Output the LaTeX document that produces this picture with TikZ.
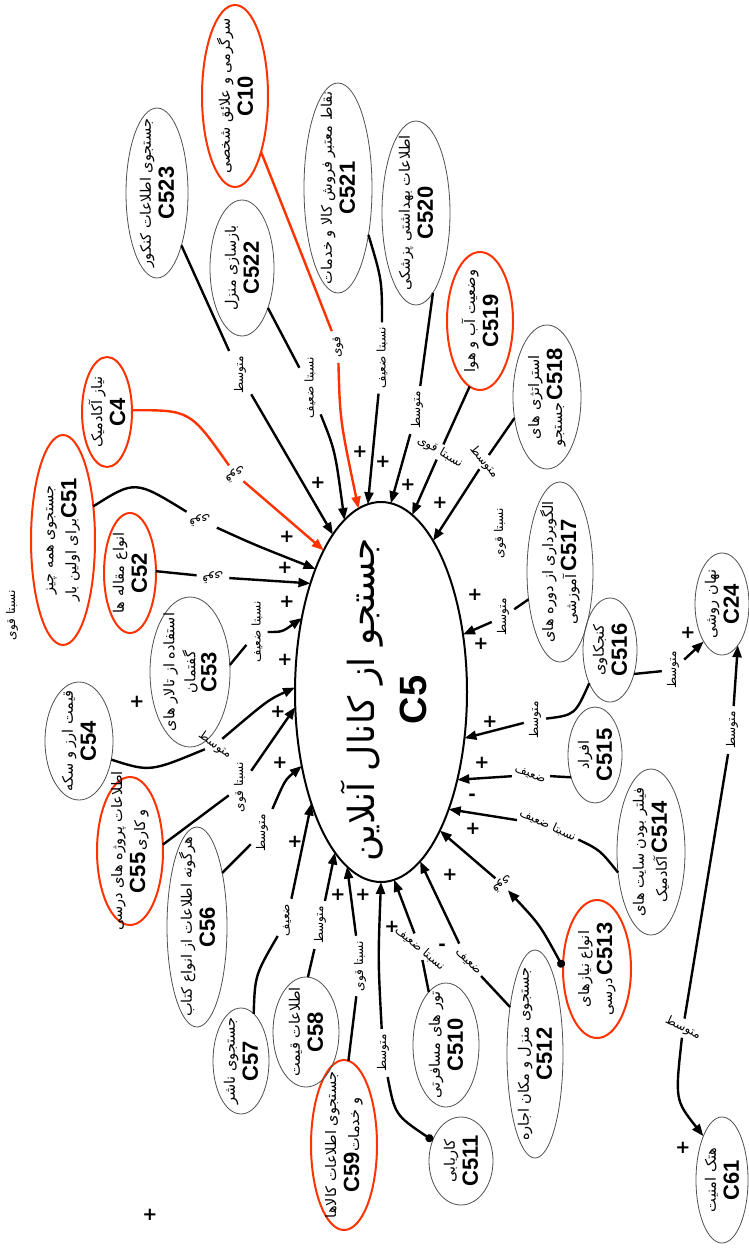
\documentclass[tikz,border=0pt]{standalone}
\usepackage{fontspec}
\setmainfont{DejaVu Sans}
\newfontfamily\fa[Script=Arabic]{DejaVu Sans}
\newfontfamily\cdfont{Liberation Sans}
\TeXXeTstate=1
\usetikzlibrary{shapes.geometric,arrows.meta}
\definecolor{myred}{RGB}{255,51,0}
\definecolor{elgray}{RGB}{80,80,80}
\newcommand\pft[1]{{\fa\fontsize{14.5}{16}\selectfont\beginR #1\endR}}
\newcommand\cdt[1]{{\cdfont\bfseries\fontsize{22}{24}\selectfont #1}}
\newcommand\pfl[1]{{\fa\beginR #1\endR}}
\tikzset{
  ell/.style={ellipse, draw=elgray, line width=0.8pt, inner sep=0pt, outer sep=0pt},
  rell/.style={ellipse, draw=myred, line width=2pt, inner sep=0pt, outer sep=0pt},
  txt/.style={rotate=90, align=center, inner sep=0pt, font=\fontsize{14}{23}\selectfont},
  lab/.style={rotate=90, inner sep=5pt, font=\fontsize{12}{13}\selectfont},
  edge/.style={line width=2.4pt, black},
  arr/.style={edge, -{Triangle[length=12pt,width=9pt]}},
  dotarr/.style={edge, {Circle[length=8pt]}-{Triangle[length=12pt,width=9pt]}},
  redge/.style={line width=2.4pt, myred},
  rarr/.style={redge, -{Triangle[length=12pt,width=9pt]}},
  sgn/.style={inner sep=0pt, font=\bfseries\fontsize{18}{18}\selectfont}
}
\begin{document}
\begin{tikzpicture}[x=1pt,y=-1pt]
\useasboundingbox[fill=white] (0,0) rectangle (749,1250);

% ---- central node
\node[ellipse, draw=black, line width=2pt, inner sep=0pt, outer sep=0pt, minimum width=172pt, minimum height=380pt] (c5) at (381,692) {};
\node[rotate=90, align=center, inner sep=0pt, font=\fontsize{36}{52}\selectfont] (t5) at (384,700) {\pfl{جستجو از کانال آنلاین}\\{\cdfont\bfseries\fontsize{38}{40}\selectfont C5}};

% ---- concept nodes
\node[rell, minimum width=66pt, minimum height=182pt] (c10) at (235,96) {};
\node[txt] at (c10) {\pft{سرگرمی و علائق شخصی}\\\cdt{C10}};
\node[ell, minimum width=62pt, minimum height=170pt] (c523) at (157,193) {};
\node[txt] at (c523) {\pft{جستجوی اطلاعات کنکور}\\\cdt{C523}};
\node[ell, minimum width=64pt, minimum height=136pt] (c522) at (242,268) {};
\node[txt] at (c522) {\pft{بازسازی منزل}\\\cdt{C522}};
\node[ell, minimum width=68pt, minimum height=210pt] (c521) at (338,188) {};
\node[txt] at (c521) {\pft{نقاط معتبر فروش کالا و خدمات}\\\cdt{C521}};
\node[ell, minimum width=68pt, minimum height=184pt] (c520) at (416,213) {};
\node[txt] at (c520) {\pft{اطلاعات بهداشتی پزشکی}\\\cdt{C520}};
\node[rell, minimum width=66pt, minimum height=138pt] (c519) at (480,321) {};
\node[txt] at (c519) {\pft{وضعیت آب و هوا}\\\cdt{C519}};
\node[ell, minimum width=68pt, minimum height=144pt] (c518) at (547,397) {};
\node[txt] at (c518) {\pft{استراتژی های}\\\pft{جستجو}\,\cdt{C518}};
\node[ell, minimum width=66pt, minimum height=180pt] (c517) at (560,572) {};
\node[txt] at (c517) {\pft{الگوبرداری از دوره های}\\\pft{آموزشی}\,\cdt{C517}};
\node[ell, minimum width=54pt, minimum height=104pt] (c516) at (610,650) {};
\node[txt] at (c516) {\pft{کنجکاوی}\\\cdt{C516}};
\node[ell, minimum width=54pt, minimum height=96pt] (c515) at (595,755) {};
\node[txt] at (c515) {\pft{افراد}\\\cdt{C515}};
\node[ell, minimum width=68pt, minimum height=166pt] (c514) at (651,852) {};
\node[txt] at (c514) {\pft{فیلتر بودن سایت های}\\\pft{آکادمیک}\,\cdt{C514}};
\node[rell, minimum width=68pt, minimum height=138pt] (c513) at (597,969) {};
\node[txt] at (c513) {\pft{انواع نیازهای}\\\pft{درسی}\,\cdt{C513}};
\node[ell, minimum width=56pt, minimum height=208pt] (c512) at (535,1054) {};
\node[txt] at (c512) {\pft{جستجوی منزل و مکان اجاره}\\\cdt{C512}};
\node[ell, minimum width=64pt, minimum height=88pt] (c511) at (461,1161) {};
\node[txt] at (c511) {\pft{کاریابی}\\\cdt{C511}};
\node[ell, minimum width=66pt, minimum height=124pt] (c510) at (446,1045) {};
\node[txt] at (c510) {\pft{تور های مسافرتی}\\\cdt{C510}};
\node[rell, minimum width=66pt, minimum height=170pt] (c59) at (344,1145) {};
\node[txt] at (c59) {\pft{جستجوی اطلاعات کالاها}\\\cdt{C59}\pft{و خدمات}};
\node[ell, minimum width=66pt, minimum height=110pt] (c58) at (306,1032) {};
\node[txt] at (c58) {\pft{اطلاعات قیمت}\\\cdt{C58}};
\node[ell, minimum width=56pt, minimum height=106pt] (c57) at (241,1061) {};
\node[txt] at (c57) {\pft{جستجوی ناشر}\\\cdt{C57}};
\node[ell, minimum width=60pt, minimum height=200pt] (c56) at (197,927) {};
\node[txt] at (c56) {\pft{هرگونه اطلاعات از انواع کتاب}\\\cdt{C56}};
\node[rell, minimum width=66pt, minimum height=148pt] (c55) at (130,851) {};
\node[txt] at (c55) {\pft{اطلاعات پروژه های درسی}\\\cdt{C55}\,\pft{و کاری}};
\node[ell, minimum width=68pt, minimum height=118pt] (c54) at (79,741) {};
\node[txt] at (c54) {\pft{قیمت ارز و سکه}\\\cdt{C54}};
\node[ell, minimum width=80pt, minimum height=150pt] (c53) at (190,672) {};
\node[txt, font=\fontsize{14}{21}\selectfont] at (c53) {\pft{استفاده از تالار های}\\\pft{گفتمان}\\\cdt{C53}};
\node[rell, minimum width=52pt, minimum height=120pt] (c52) at (130,573) {};
\node[txt] at (c52) {\pft{انواع مقاله ها}\\\cdt{C52}};
\node[rell, minimum width=64pt, minimum height=210pt] (c51) at (63,540) {};
\node[txt] at (c51) {\pft{جستجوی همه چیز}\\\pft{برای اولین بار}\cdt{C51}};
\node[rell, minimum width=50pt, minimum height=110pt] (c4) at (107,412) {};
\node[txt] at (c4) {\pft{نیاز آکادمیک}\\\cdt{C4}};
\node[ell, minimum width=54pt, minimum height=102pt] (c24) at (722,604) {};
\node[txt] at (c24) {\pft{نهان روشی}\\\cdt{C24}};
\node[ell, minimum width=52pt, minimum height=126pt] (c61) at (722,1180) {};
\node[txt] at (c61) {\pft{هتک امنیت}\\\cdt{C61}};

% ---- edge labels
\node[lab] (l523) at (240,375) {\pfl{متوسط}};
\node[lab] (l522) at (310,388) {\pfl{نسبتا ضعیف}};
\node[lab] (l10) at (338,347) {\pfl{قوی}};
\node[lab] (l521) at (382,358) {\pfl{نسبتا ضعیف}};
\node[lab] (l520) at (417,410) {\pfl{متوسط}};
\node[lab, rotate=-120, inner sep=2pt] (l519) at (440,452) {\pfl{نسبتا قوی}};
\node[lab, rotate=-140, inner sep=2pt] (l518) at (484,462) {\pfl{متوسط}};
\node[lab] (lx1) at (500,533) {\pfl{نسبتا قوی}};
\node[lab] (l517) at (503,617) {\pfl{متوسط}};
\node[lab] (l516) at (535,720) {\pfl{متوسط}};
\node[lab] (l516b) at (673,670) {\pfl{متوسط}};
\node[lab, rotate=-110, inner sep=3pt] (l515) at (530,775) {\pfl{ضعیف}};
\node[lab, rotate=-115, inner sep=3pt] (l514) at (548,825) {\pfl{نسبتا ضعیف}};
\node[lab, rotate=125, inner sep=3pt] (l513) at (502,884) {\pfl{قوی}};
\node[lab, rotate=-135, inner sep=3pt] (l512) at (468,962) {\pfl{ضعیف}};
\node[lab, rotate=-130, inner sep=2pt] (l510) at (420,948) {\pfl{نسبتا ضعیف}};
\node[lab] (l511) at (383,1053) {\pfl{متوسط}};
\node[lab] (l59) at (360,966) {\pfl{نسبتا قوی}};
\node[lab] (l58) at (320,925) {\pfl{متوسط}};
\node[lab] (l57) at (287,920) {\pfl{ضعیف}};
\node[lab] (l56) at (262,833) {\pfl{متوسط}};
\node[lab] (l55) at (240,787) {\pfl{نسبتا قوی}};
\node[lab, rotate=-125, inner sep=3pt] (l54) at (215,745) {\pfl{متوسط}};
\node[lab] (l53) at (257,632) {\pfl{نسبتا ضعیف}};
\node[lab, rotate=100] (l52) at (213,577) {\pfl{قوی}};
\node[lab, rotate=100] (l51) at (200,520) {\pfl{قوی}};
\node[lab, rotate=120] (l4) at (235,474) {\pfl{قوی}};
\node[lab] (l24a) at (732,730) {\pfl{متوسط}};
\node[lab, rotate=-115, inner sep=3pt] (l61) at (683,1028) {\pfl{متوسط}};
\node[lab] (lx2) at (12,615) {\pfl{نسبتا قوی}};

% ---- edges
\draw[edge] (c523.-65) -- (l523);
\draw[arr] (l523) -- (c5.107);
\draw[edge] (c522.-57) -- (l522);
\draw[arr] (l522) .. controls (335,450) .. (c5.102);
\draw[redge] (c10.-65) .. controls (300,250) .. (l10);
\draw[rarr] (l10) .. controls (340,420) .. (c5.97);
\draw[edge] (c521.-57) .. controls (382,280) .. (l521);
\draw[arr] (l521) .. controls (374,440) .. (c5.94);
\draw[edge] (c520.-78) -- (l520);
\draw[arr] (l520) -- (c5.87);
\draw[edge] (c519.-99) -- (l519);
\draw[arr] (l519) -- (c5.80);
\draw[edge] (c518.-147) -- (l518);
\draw[arr] (l518) -- (c5.71);
\draw[edge] (c517.-139) -- (l517);
\draw[arr] (l517) -- (c5.35);
\draw[edge] (c516.-122) .. controls (575,715) .. (l516);
\draw[arr] (l516) -- (c5.-29);
\draw[edge] (c516.-45) -- (l516b);
\draw[arr] (l516b) -- (c24.-116);
\draw[edge] (c515.-137) -- (l515);
\draw[arr] (l515) -- (c5.-49);
\draw[edge] (c514.-148) .. controls (600,850) .. (l514);
\draw[arr] (l514) -- (c5.-60);
\draw[dotarr] (c513.177) .. controls (540,925) .. (l513);
\draw[arr] (l513) -- (c5.-67);
\draw[edge] (c512.118) -- (l512);
\draw[arr] (l512) -- (c5.-77);
\draw[edge] (c510.108) -- (l510);
\draw[arr] (l510) -- (c5.-86);
\draw[edge, {Circle[length=8pt]}-] (c511.144) .. controls (395,1115) .. (l511);
\draw[arr] (l511) .. controls (378,960) .. (c5.-90);
\draw[edge] (c59.87) -- (l59);
\draw[arr] (l59) -- (c5.-101);
\draw[edge] (c58.88) -- (l58);
\draw[arr] (l58) -- (c5.-106);
\draw[edge] (c57.75) .. controls (255,975) .. (l57);
\draw[arr] (l57) -- (c5.-122);
\draw[edge] (c56.65) -- (l56);
\draw[arr] (l56) .. controls (285,780) .. (c5.-137);
\draw[edge] (c55.11) -- (l55);
\draw[arr] (l55) -- (c5.-170);
\draw[edge] (c54.-30) .. controls (150,772) .. (l54);
\draw[arr] (l54) .. controls (268,700) .. (c5.177);
\draw[edge] (c53.10) -- (l53);
\draw[arr] (l53) .. controls (282,632) .. (c5.137);
\draw[edge] (c52.4) -- (l52);
\draw[arr] (l52) -- (c5.123);
\draw[edge] (c51.48) .. controls (135,480) .. (l51);
\draw[arr] (l51) .. controls (255,545) .. (c5.118);
\draw[redge] (c4.4) .. controls (190,410) .. (l4);
\draw[rarr] (l4) -- (c5.112);
\draw[arr] (l24a) -- (c24.-69);
\draw[edge] (l24a) -- (l61);
\draw[arr] (l61) .. controls (675,1100) .. (c61.113);

% ---- polarity signs
\foreach \p/\q in {318/483,360/452,383/462,408/485,440/503,475/595,481/644,490/722,482/763,473/829,450/875,392/927,363/895,338/895,295/842,280/763,278/712,285/660,287/602,285/568,287/537,137/702,688/633,683/1148,150/1215}
  \node[sgn] at (\p,\q) {+};
\node[sgn] at (472,797) {-};
\node[sgn] at (442,947) {-};
\end{tikzpicture}
\end{document}
